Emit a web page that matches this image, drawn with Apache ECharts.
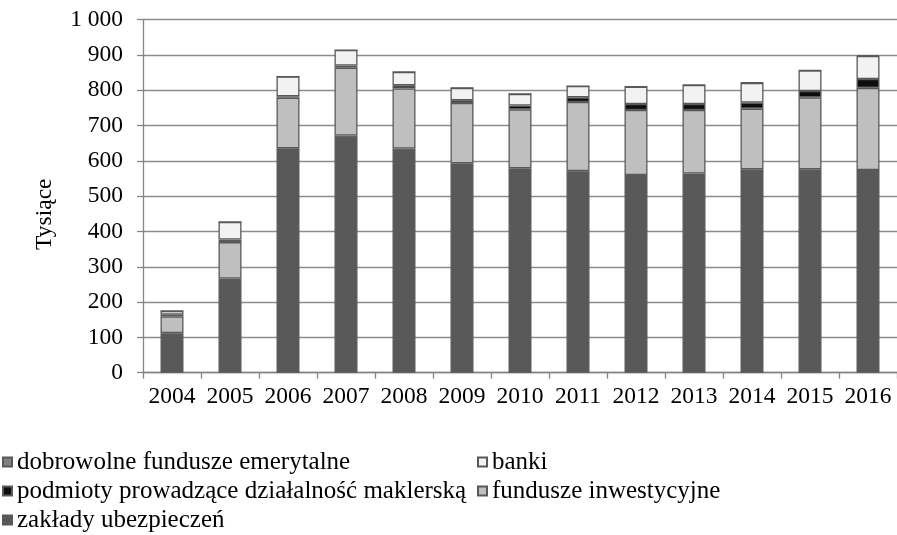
<!DOCTYPE html>
<html>
<head>
<meta charset="utf-8">
<script src="https://cdn.jsdelivr.net/npm/echarts@6/dist/echarts.min.js"></script>
<style>
html,body{margin:0;padding:0;background:#fff;}
#c{width:897px;height:535px;}
</style>
</head>
<body>
<div id="c"></div>
<script>
const years = ['2004','2005','2006','2007','2008','2009','2010','2011','2012','2013','2014','2015','2016'];
const zaklady = [112, 267, 636, 672, 635, 593, 579, 571, 560, 564, 576, 576, 574];
const fundusze = [47, 103, 143, 192, 170, 171, 167, 196, 184, 180, 172, 204, 233];
const maklerska = [6, 7, 4, 6, 9, 8, 11, 13, 17, 17, 17, 18, 25];
const banki = [10, 50, 56, 44, 38, 35, 33, 32, 49, 54, 56, 58, 65];
const dfe = [0, 0, 0, 0, 0, 0, 0, 0, 1, 1, 1, 1, 3];
const yTicks = [0, 100, 200, 300, 400, 500, 600, 700, 800, 900, 1000];

const names = {
  zak: 'zakłady ubezpieczeń',
  fun: 'fundusze inwestycyjne',
  mak: 'podmioty prowadzące działalność maklerską',
  ban: 'banki',
  dfe: 'dobrowolne fundusze emerytalne'
};

const FONT = '"Liberation Serif", "Times New Roman", serif';
const AX = 23.5;
const LG = 25;
const chart = echarts.init(document.getElementById('c'), null, {renderer: 'canvas'});

function bar(name, data, color) {
  return {
    name: name, type: 'bar', stack: 'all', data: data, barWidth: 23,
    itemStyle: {color: color, borderColor: '#595959', borderWidth: 1.3},
    emphasis: {disabled: true}
  };
}

function leg(name, left, centerY) {
  return {
    orient: 'horizontal', left: left, top: centerY - LG / 2, padding: 0,
    itemWidth: 9, itemHeight: 9, icon: 'rect', selectedMode: false,
    textStyle: {fontFamily: FONT, fontSize: LG, color: '#000', lineHeight: LG},
    data: [name]
  };
}

chart.setOption({
  animation: false,
  backgroundColor: '#fff',
  textStyle: {fontFamily: FONT},
  grid: {left: 143, right: 0, top: 19.7, bottom: 162.3, containLabel: false},
  xAxis: {
    type: 'category', data: years,
    axisLine: {lineStyle: {color: '#868686', width: 1.3}},
    axisTick: {show: true, length: 6, lineStyle: {color: '#868686', width: 1.3}},
    axisLabel: {fontFamily: FONT, fontSize: AX, color: '#000', margin: 12, interval: 0, hideOverlap: false}
  },
  yAxis: {
    type: 'value', min: 0, max: 1000, interval: 100,
    name: 'Tysiące', nameLocation: 'middle', nameGap: 86,
    nameTextStyle: {fontFamily: FONT, fontSize: AX, color: '#000', padding: [0, 36, 0, 0]},
    axisLine: {show: true, lineStyle: {color: '#868686', width: 1.3}},
    axisTick: {show: true, length: 6, lineStyle: {color: '#868686', width: 1.3}},
    splitLine: {lineStyle: {color: '#8c8c8c', width: 1.3}},
    axisLabel: {
      fontFamily: FONT, fontSize: AX, color: '#000', margin: 20,
      formatter: v => yTicks.includes(v) ? (v >= 1000 ? String(v).replace(/\B(?=(\d{3})+(?!\d))/g, ' ') : String(v)) : ''
    }
  },
  legend: [
    leg(names.dfe, 2, 462),
    leg(names.mak, 2, 491),
    leg(names.zak, 2, 520),
    leg(names.ban, 477, 462),
    leg(names.fun, 477, 491)
  ],
  series: [
    bar(names.zak, zaklady, '#595959'),
    bar(names.fun, fundusze, '#bfbfbf'),
    bar(names.mak, maklerska, '#0d0d0d'),
    bar(names.ban, banki, '#f2f2f2'),
    bar(names.dfe, dfe, '#808080')
  ]
});
</script>
</body>
</html>
